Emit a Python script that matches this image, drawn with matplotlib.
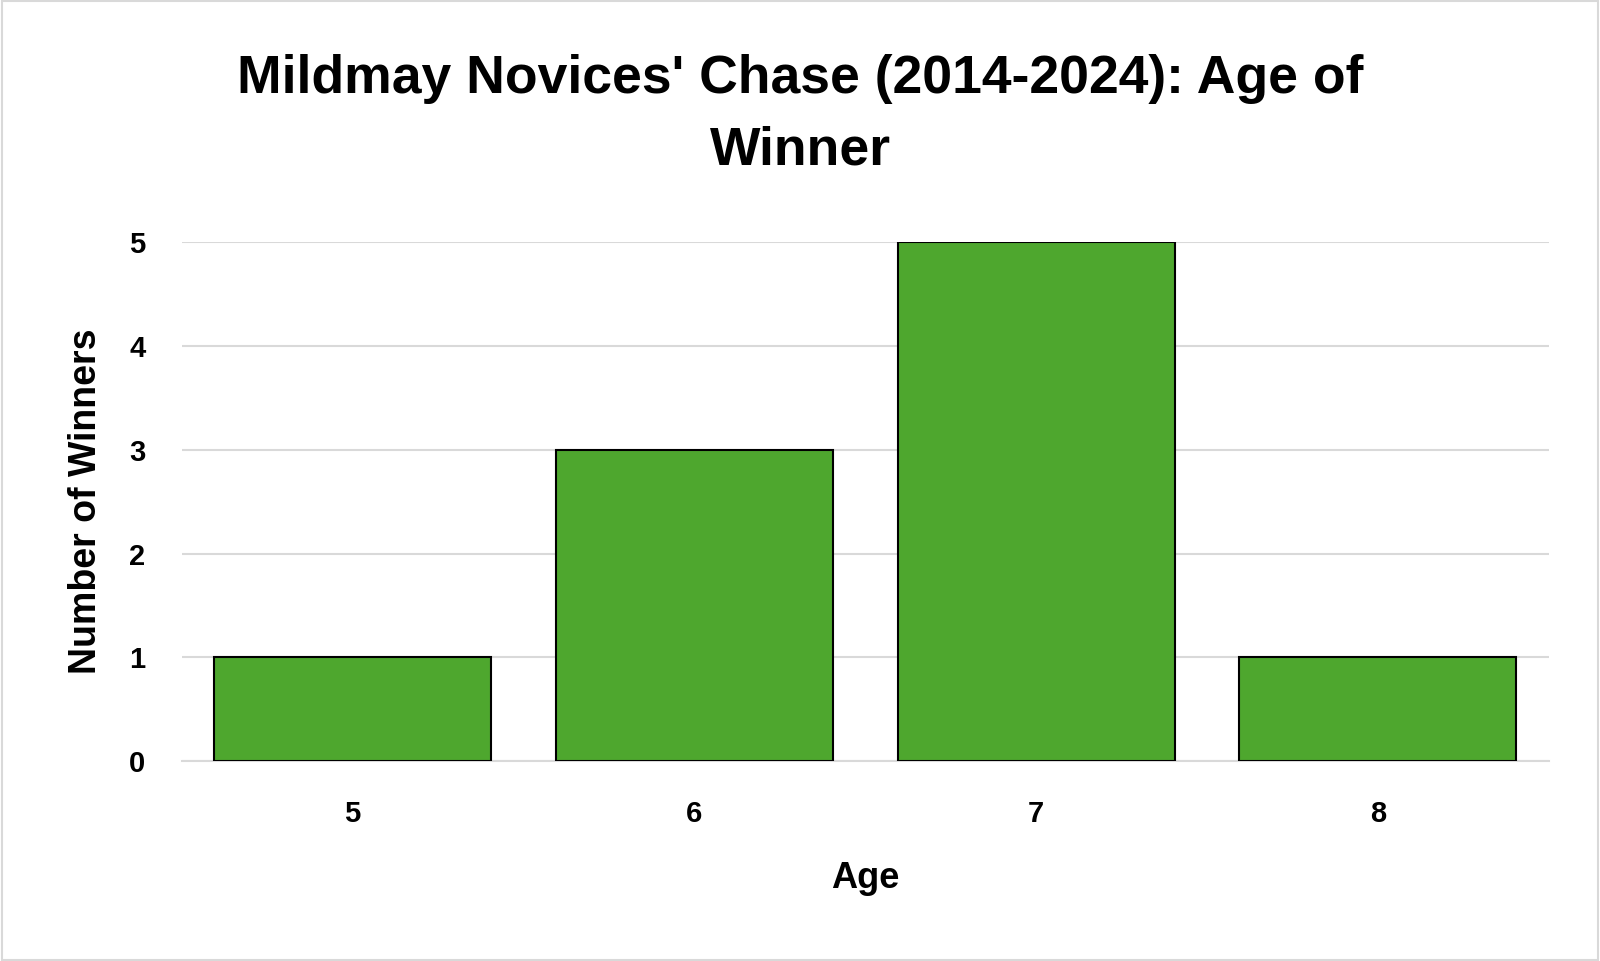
import matplotlib
matplotlib.use("Agg")
import matplotlib.pyplot as plt
from matplotlib.patches import Rectangle

ages = ["5", "6", "7", "8"]
winners = [1, 3, 5, 1]

plt.rcParams['font.family'] = ['Liberation Sans', 'DejaVu Sans']

fig = plt.figure(figsize=(16, 9.61), dpi=100)
ax = fig.add_axes([0.1135, 0.208, 0.8545, 0.540])

x = list(range(len(ages)))
ax.bar(x, winners, width=0.81, color="#4EA72E", edgecolor="black", linewidth=1.5, zorder=3)
ax.set_xlim(-0.5, len(ages) - 0.5)
ax.set_ylim(0, 5)
ax.set_yticks(range(0, 6))
ax.set_xticks(x)
ax.set_xticklabels(ages)
ax.yaxis.grid(True, color="#d9d9d9", linewidth=1.5, zorder=0)
ax.set_axisbelow(True)
for s in ["top", "right", "left"]:
    ax.spines[s].set_visible(False)
ax.spines["bottom"].set_color("#d9d9d9")
ax.spines["bottom"].set_linewidth(1.5)
ax.tick_params(axis="both", length=0, labelsize=21)
ax.tick_params(axis="y", pad=26)
ax.tick_params(axis="x", pad=28)
for lab in ax.get_xticklabels() + ax.get_yticklabels():
    lab.set_fontweight("bold")
ax.set_xlabel("Age", fontsize=26, fontweight="bold", labelpad=24)
ax.set_ylabel("Number of Winners", fontsize=27, fontweight="bold", labelpad=18)

fig.text(0.5, 0.881, "Mildmay Novices' Chase (2014-2024): Age of\nWinner", ha="center", va="center",
         fontsize=38.5, fontweight="bold", linespacing=1.55)

fig.patches.append(Rectangle((0.001, 0.001), 0.998, 0.998, transform=fig.transFigure,
                             fill=False, edgecolor="#d9d9d9", linewidth=1.5))

fig.savefig("out.png", dpi=100, facecolor="white")
